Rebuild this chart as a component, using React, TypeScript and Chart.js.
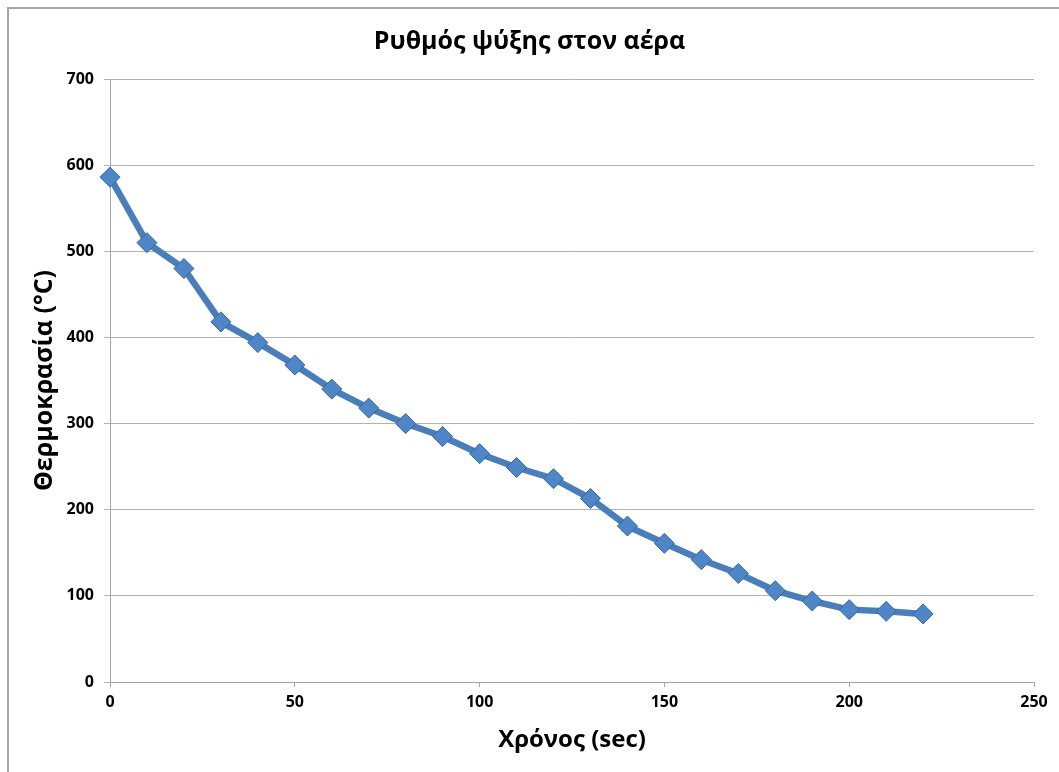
import React, { useEffect, useRef } from "react";
import { Chart, registerables } from "chart.js";

Chart.register(...registerables);

const timeSec = [0, 10, 20, 30, 40, 50, 60, 70, 80, 90, 100, 110, 120, 130, 140, 150, 160, 170, 180, 190, 200, 210, 220];
const temperature = [586, 510, 480, 418, 394, 368, 340, 318, 300, 285, 265, 249, 236, 213, 181, 161, 142, 126, 106, 94, 84, 82, 79];

const chartTitle = "Ρυθμός ψύξης στον αέρα";
const xTitle = "Χρόνος (sec)";
const yTitle = "Θερμοκρασία (°C)";

const FONT = "'Open Sans', 'Noto Sans', sans-serif";

const outerBorder = {
  id: "outerBorder",
  beforeDraw(chart: any) {
    const ctx = chart.ctx;
    ctx.save();
    ctx.fillStyle = "#ffffff";
    ctx.fillRect(0, 0, chart.width, chart.height);
    ctx.strokeStyle = "#a6a6a6";
    ctx.lineWidth = 2;
    ctx.beginPath();
    ctx.moveTo(8, chart.height);
    ctx.lineTo(8, 8);
    ctx.lineTo(chart.width, 8);
    ctx.stroke();
    ctx.restore();
  },
};

export default function App() {
  const ref = useRef<HTMLCanvasElement | null>(null);
  useEffect(() => {
    if (!ref.current) return;
    const data = timeSec.map((t, i) => ({ x: t, y: temperature[i] }));
    const chart = new Chart(ref.current, {
      type: "line",
      data: {
        datasets: [
          {
            data,
            clip: false,
            borderColor: "#4a7ebb",
            borderWidth: 6.5,
            tension: 0,
            pointStyle: "rectRot",
            pointRadius: 10,
            pointHoverRadius: 10,
            pointBackgroundColor: "#4f86c8",
            pointBorderColor: "#35679f",
            pointBorderWidth: 1,
          },
        ],
      },
      options: {
        animation: false,
        responsive: false,
        maintainAspectRatio: false,
        layout: { padding: { left: 25, right: 25, top: 0, bottom: 0 } },
        plugins: {
          legend: { display: false },
          tooltip: { enabled: false },
          title: {
            display: true,
            text: chartTitle,
            color: "#000000",
            font: { family: FONT, size: 25, weight: "bold" },
            padding: { top: 27, bottom: 22 },
          },
        },
        scales: {
          x: {
            type: "linear",
            min: 0,
            max: 250,
            afterFit(scale: any) {
              scale.height = 90;
            },
            ticks: {
              stepSize: 50,
              color: "#000000",
              font: { family: FONT, size: 16, weight: "bold" },
              padding: 6,
              maxRotation: 0,
            },
            grid: {
              drawOnChartArea: false,
              drawTicks: true,
              tickLength: 5,
              color: "#a6a6a6",
            },
            border: { display: true, color: "#a6a6a6", width: 1 },
            title: {
              display: true,
              text: xTitle,
              color: "#000000",
              font: { family: FONT, size: 24, weight: "bold" },
              padding: { top: 0, bottom: 17 },
            },
          },
          y: {
            min: 0,
            max: 700,
            afterFit(scale: any) {
              scale.width = 85;
            },
            ticks: {
              stepSize: 100,
              color: "#000000",
              font: { family: FONT, size: 16, weight: "bold" },
              padding: 10,
            },
            grid: {
              drawOnChartArea: true,
              drawTicks: true,
              tickLength: 6,
              color: "#b3b3b3",
            },
            border: { display: true, color: "#a6a6a6", width: 1 },
            title: {
              display: true,
              text: yTitle,
              color: "#000000",
              font: { family: FONT, size: 25, weight: "bold" },
              padding: { top: 5, bottom: 0 },
            },
          },
        },
      },
      plugins: [outerBorder],
    });
    return () => chart.destroy();
  }, []);
  return (
    <div style={{ position: "fixed", left: 0, top: 0, width: 1059, height: 772 }}>
      <canvas ref={ref} width={1059} height={772} style={{ width: 1059, height: 772 }} />
    </div>
  );
}
